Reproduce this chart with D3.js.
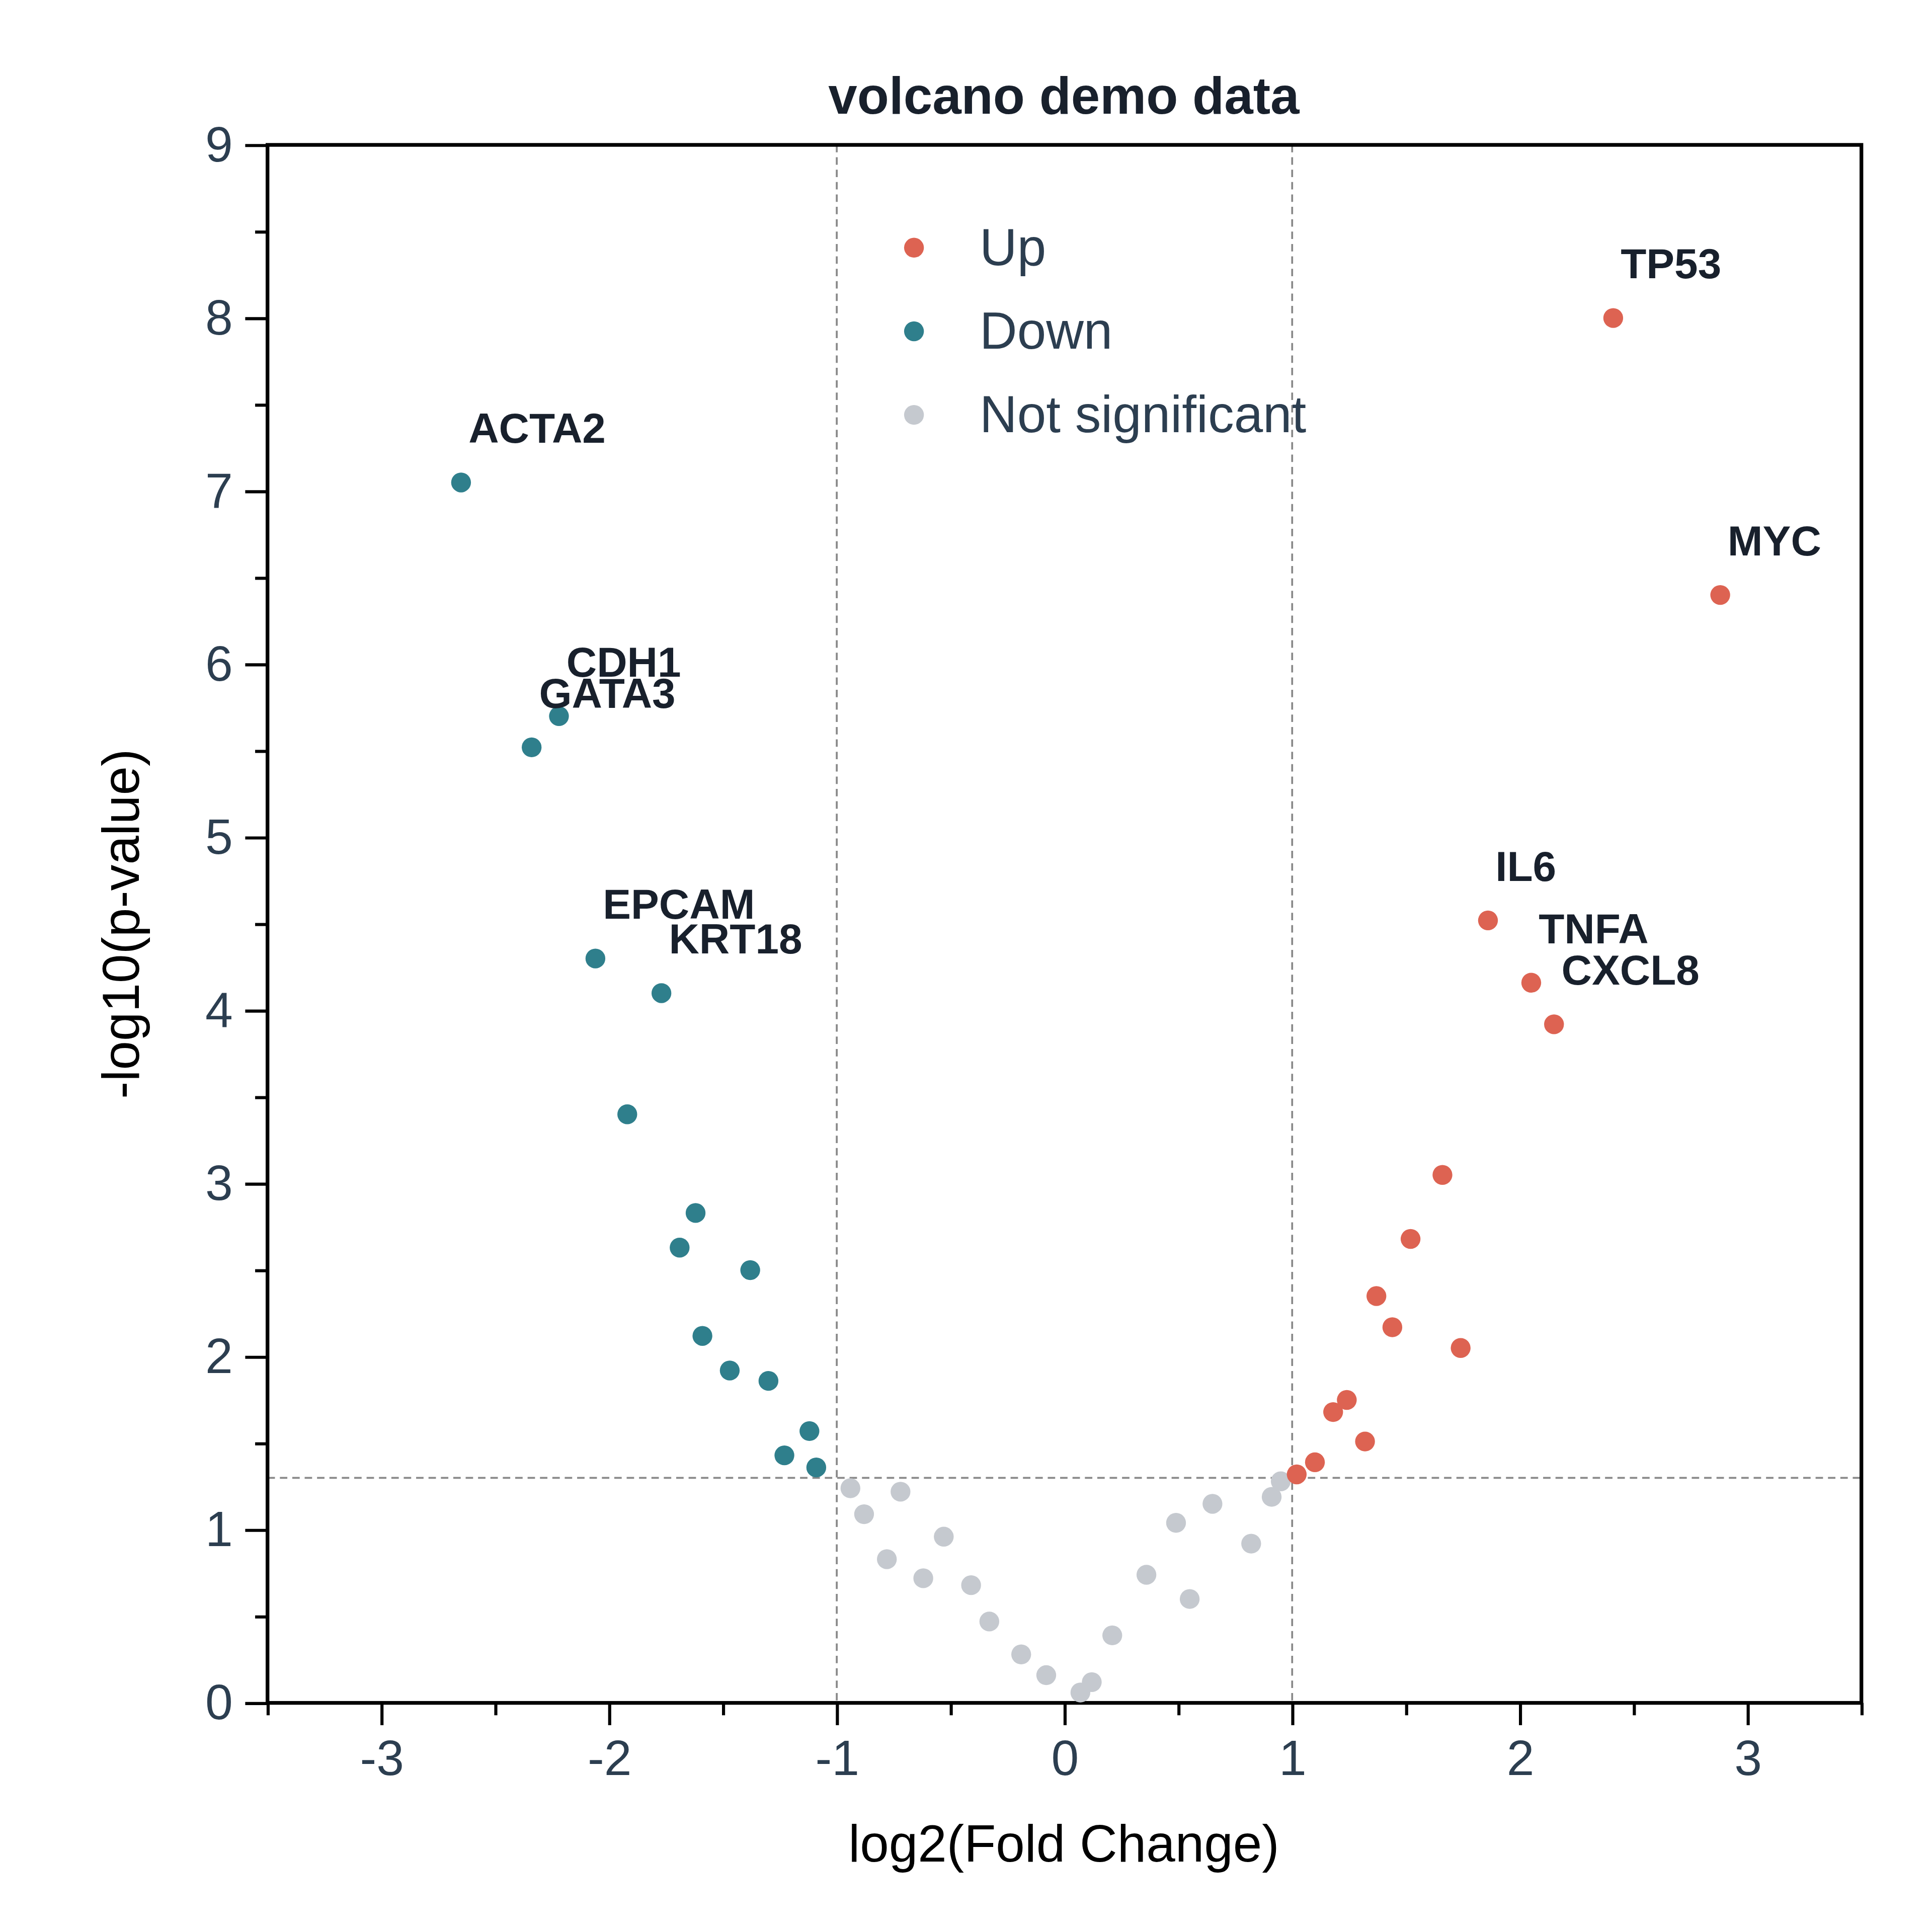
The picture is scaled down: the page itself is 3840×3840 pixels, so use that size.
<!DOCTYPE html>
<html><head><meta charset="utf-8">
<script src="https://cdn.jsdelivr.net/npm/d3@7"></script>
<style>body{margin:0;background:#fff}</style></head>
<body><svg id="c" width="3840" height="3840" viewBox="0 0 1560 1560"></svg>
<script>
const upX=[1.02,1.10,1.18,1.24,1.32,1.37,1.44,1.52,1.66,1.74,1.86,2.05,2.15,2.41,2.88];
const upY=[1.32,1.39,1.68,1.75,1.51,2.35,2.17,2.68,3.05,2.05,4.52,4.16,3.92,8.00,6.40];
const upLab=["","","","","","","","","","","IL6","TNFA","CXCL8","TP53","MYC"];
const downX=[-2.65,-2.22,-2.34,-2.06,-1.77,-1.92,-1.62,-1.69,-1.38,-1.59,-1.47,-1.30,-1.12,-1.23,-1.09];
const downY=[7.05,5.70,5.52,4.30,4.10,3.40,2.83,2.63,2.50,2.12,1.92,1.86,1.57,1.43,1.36];
const downLab=["ACTA2","CDH1","GATA3","EPCAM","KRT18","","","","","","","","","",""];
const nsX=[-0.94,-0.88,-0.72,-0.78,-0.62,-0.53,-0.41,-0.33,-0.19,-0.08,0.07,0.12,0.21,0.36,0.49,0.55,0.65,0.82,0.91,0.95];
const nsY=[1.24,1.09,1.22,0.83,0.72,0.96,0.68,0.47,0.28,0.16,0.06,0.12,0.39,0.74,1.04,0.60,1.15,0.92,1.19,1.28];
const xTicks=[-3,-2,-1,0,1,2,3], yTicks=[0,1,2,3,4,5,6,7,8,9];
const colors={up:"#dd6352",down:"#2f7f8c",ns:"#c5c9cf"};
const svg=d3.select("#c"), F="Liberation Sans, Arial, sans-serif", tc="#2c3e50";
const L=216,R=1503,T=117,B=1375;
const x=d3.scaleLinear([-3.5,3.5],[L,R]), y=d3.scaleLinear([0,9],[B,T]);
const dash=svg.append("g").attr("stroke","#888").attr("stroke-width",1.5).attr("stroke-dasharray","6,4");
[-1,1].forEach(v=>dash.append("line").attr("x1",x(v)).attr("x2",x(v)).attr("y1",T).attr("y2",B));
dash.append("line").attr("x1",L).attr("x2",R).attr("y1",y(1.3)).attr("y2",y(1.3));
const xa=svg.append("g").attr("transform",`translate(0,${B})`)
 .call(d3.axisBottom(x).tickValues(xTicks).tickSize(18).tickPadding(12).tickFormat(d=>String(d)));
const ya=svg.append("g").attr("transform",`translate(${L},0)`)
 .call(d3.axisLeft(y).tickValues(yTicks).tickSize(18).tickPadding(10).tickFormat(d=>String(d)));
[xa,ya].forEach(a=>{a.selectAll("text").attr("font-family",F).attr("font-size",40).attr("fill",tc);
 a.selectAll("line").attr("stroke","#000").attr("stroke-width",2.5);a.select(".domain").remove();});
svg.append("g").attr("transform",`translate(0,${B})`).call(d3.axisBottom(x).tickValues(d3.range(-3.5,3.6,0.5).filter(v=>v%1!==0)).tickSize(10).tickFormat(""))
 .call(g=>{g.select(".domain").remove();g.selectAll("line").attr("stroke","#000").attr("stroke-width",2.5);});
svg.append("g").attr("transform",`translate(${L},0)`).call(d3.axisLeft(y).tickValues(d3.range(0.5,9,1)).tickSize(10).tickFormat(""))
 .call(g=>{g.select(".domain").remove();g.selectAll("line").attr("stroke","#000").attr("stroke-width",2.5);});
svg.append("rect").attr("x",L).attr("y",T).attr("width",R-L).attr("height",B-T).attr("fill","none").attr("stroke","#000").attr("stroke-width",3);
function pts(X,Y,c){svg.append("g").selectAll("circle").data(X).join("circle")
 .attr("cx",d=>x(d)).attr("cy",(d,i)=>y(Y[i])).attr("r",8).attr("fill",c);}
pts(nsX,nsY,colors.ns);pts(downX,downY,colors.down);pts(upX,upY,colors.up);
function labs(X,Y,Lb){svg.append("g").selectAll("text").data(Lb.map((l,i)=>({l,i})).filter(d=>d.l)).join("text")
 .attr("x",d=>x(X[d.i])+6).attr("y",d=>y(Y[d.i])-32).text(d=>d.l)
 .attr("font-family",F).attr("font-weight","bold").attr("font-size",34).attr("fill","#18202c");}
labs(downX,downY,downLab);labs(upX,upY,upLab);
[["Up",colors.up],["Down",colors.down],["Not significant",colors.ns]].forEach((d,i)=>{
 svg.append("circle").attr("cx",738).attr("cy",200+i*67.5).attr("r",8).attr("fill",d[1]);
 svg.append("text").attr("x",791).attr("y",200+i*67.5+14).text(d[0]).attr("font-family",F).attr("font-size",42).attr("fill",tc);});
svg.append("text").attr("x",859).attr("y",92).attr("text-anchor","middle").text("volcano demo data")
 .attr("font-family",F).attr("font-weight","bold").attr("font-size",42).attr("fill","#18202c");
svg.append("text").attr("x",859).attr("y",1503).attr("text-anchor","middle").text("log2(Fold Change)")
 .attr("font-family",F).attr("font-size",42).attr("fill","#000");
svg.append("text").attr("transform","translate(112,746) rotate(-90)").attr("text-anchor","middle").text("-log10(p-value)")
 .attr("font-family",F).attr("font-size",42).attr("fill","#000");
</script></body></html>
